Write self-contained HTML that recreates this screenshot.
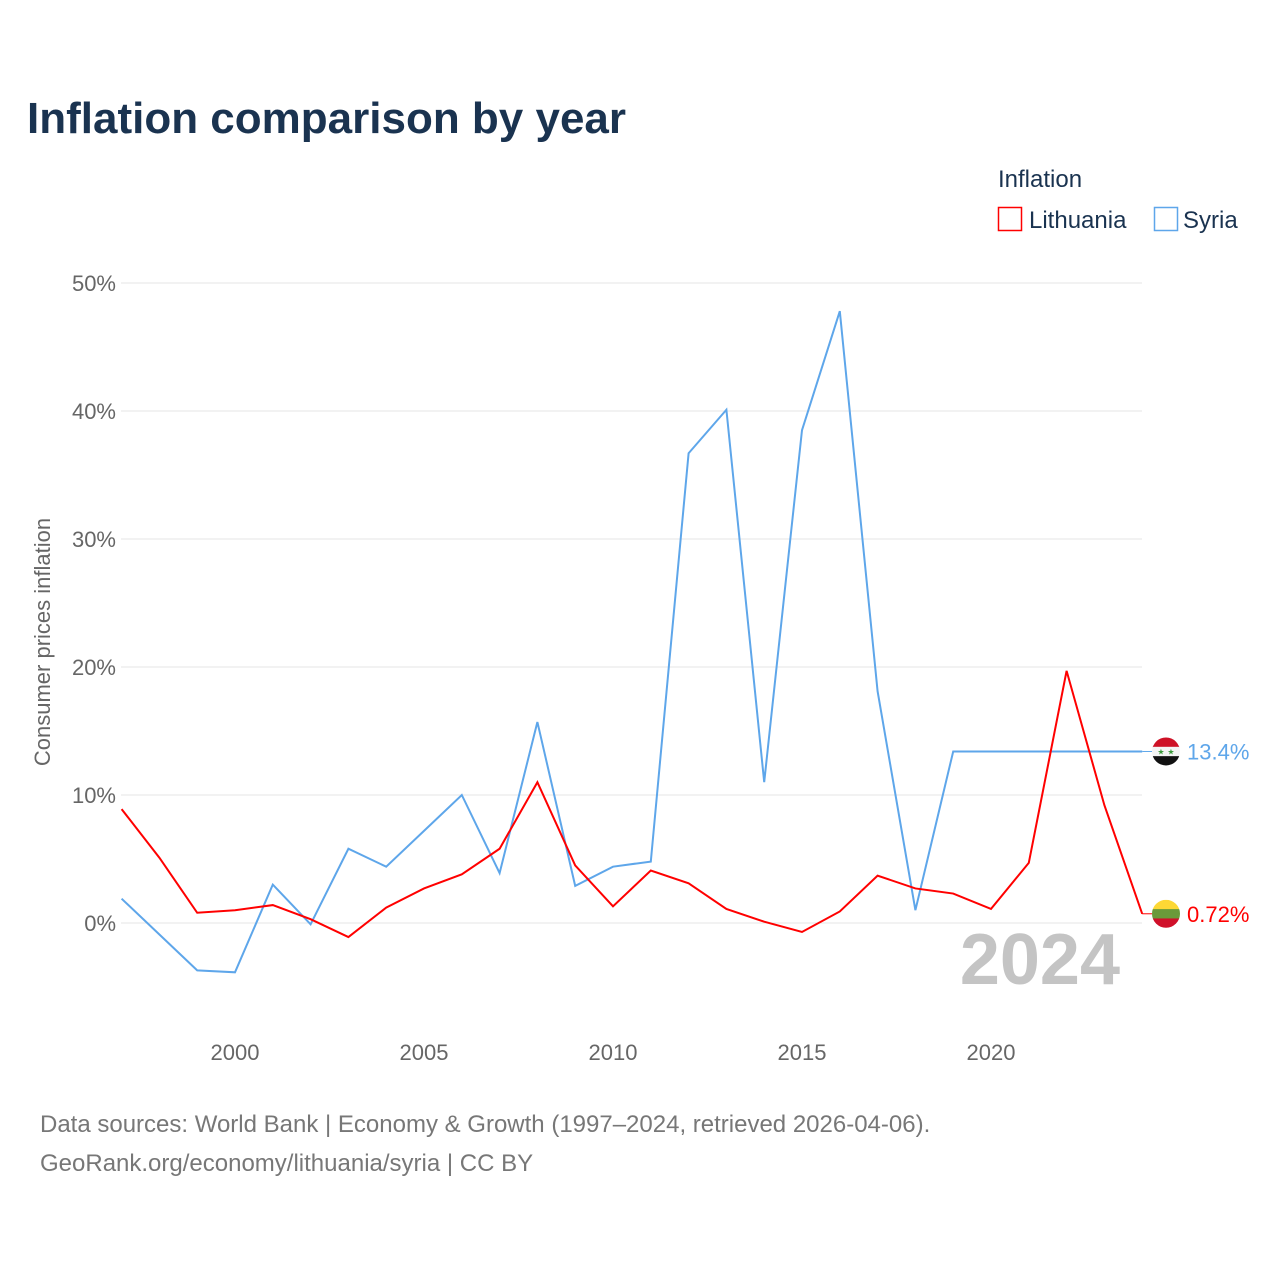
<!DOCTYPE html>
<html><head><meta charset="utf-8"><style>
body{margin:0;background:#fff;font-family:"Liberation Sans",sans-serif;}
svg{display:block}
</style></head><body>
<svg width="1280" height="1280" id="chart">
<text x="27" y="133" font-size="44" font-weight="bold" fill="#1a3350">Inflation comparison by year</text>
<g>
<text x="998" y="187" font-size="24" fill="#1a3350">Inflation</text>
<rect x="998.5" y="207.5" width="23" height="23" fill="none" stroke="#ff0000" stroke-width="1.5"/>
<text x="1029" y="228" font-size="24" fill="#1a3350">Lithuania</text>
<rect x="1154.5" y="207.5" width="23" height="23" fill="none" stroke="#5ea6ea" stroke-width="1.5"/>
<text x="1183" y="228" font-size="24" fill="#1a3350">Syria</text>
</g>
<text transform="translate(50,642) rotate(-90)" text-anchor="middle" font-size="22" fill="#666">Consumer prices inflation</text>
<g id="grid"></g><g id="xt"></g>
<text x="1120" y="984" text-anchor="end" font-size="72" font-weight="bold" fill="#c4c4c4">2024</text>
<g id="lines"></g>
<text x="40" y="1132" font-size="24" fill="#777">Data sources: World Bank | Economy &amp; Growth (1997–2024, retrieved 2026-04-06).</text>
<text x="40" y="1171" font-size="24" fill="#777">GeoRank.org/economy/lithuania/syria | CC BY</text>
</svg>
<script>
const years=[1997,1998,1999,2000,2001,2002,2003,2004,2005,2006,2007,2008,2009,2010,2011,2012,2013,2014,2015,2016,2017,2018,2019,2020,2021,2022,2023,2024];
const lithuania=[8.9,5.1,0.8,1.0,1.4,0.3,-1.1,1.2,2.7,3.8,5.8,11.0,4.5,1.3,4.1,3.1,1.1,0.1,-0.7,0.9,3.7,2.7,2.3,1.1,4.7,19.7,9.2,0.72];
const syria=[1.9,-0.9,-3.7,-3.85,3.0,-0.1,5.8,4.4,7.2,10.0,3.9,15.7,2.9,4.4,4.8,36.7,40.1,11.0,38.5,47.8,18.1,1.0,13.4,13.4,13.4,13.4,13.4,13.4];
const yTicks=[0,10,20,30,40,50];
const xTicks=[2000,2005,2010,2015,2020];
const NS="http://www.w3.org/2000/svg";
const X=y=>121.6+(y-1997)*37.8;
const Y=v=>923-v*12.8;
function mk(t,a,p){const e=document.createElementNS(NS,t);for(const k in a)e.setAttribute(k,a[k]);p.appendChild(e);return e;}
const g=document.getElementById('grid');
yTicks.forEach(v=>{
 const l=mk('line',{x1:121,x2:1142,y1:Y(v),y2:Y(v),stroke:'#e6e6e6','stroke-width':1},g);
 
 
 const t=mk('text',{x:116,y:Y(v)+8,'text-anchor':'end','font-size':22,fill:'#666'},g);
 t.textContent=v+'%';
 
 
});
const xt=document.getElementById('xt');
xTicks.forEach(v=>{
 const t=mk('text',{x:X(v),y:1060,'text-anchor':'middle','font-size':22,fill:'#666'},xt);
 t.textContent=v;
 
 
});
const L=document.getElementById('lines');
function series(vals,col,name){
 const pts=vals.map((v,i)=>X(years[i])+','+Y(v)).join(' ');
 const p=mk('polyline',{points:pts,fill:'none',stroke:col,'stroke-width':2},L);
 
 
 const last=vals[vals.length-1],yy=Y(last);
 mk('line',{x1:X(2024),x2:1152,y1:yy,y2:yy,stroke:col,'stroke-width':1},L);
 const t=mk('text',{x:1187,y:yy+8,'font-size':22,fill:col},L);
 t.textContent=(name==='syria'?last.toFixed(1):last.toFixed(2))+'%';
 
 
 return yy;
}
function flag(cx,cy,cols,name,stars){
 const gg=mk('g',{},L);
 
 
 const id='c'+name;
 const cp=mk('clipPath',{id:id},gg);mk('circle',{cx:cx,cy:cy,r:14},cp);
 cols.forEach((c,i)=>mk('rect',{x:cx-14,y:cy-14+i*28/3,width:28,height:28/3+0.5,fill:c,'clip-path':'url(#'+id+')'},gg));
 if(stars){[-5,5].forEach(d=>{const s=mk('text',{x:cx+d,y:cy+3,'text-anchor':'middle','font-size':8,fill:'#3a9a3a'},gg);s.textContent='★';});}
}
const ys=series(syria,'#5ea6ea','syria');
const yl=series(lithuania,'#ff0000','lithuania');
flag(1166,ys,['#ce1126','#f4f4f4','#111'],'syria',true);
flag(1166,yl,['#fdd835','#6a9a3a','#d0102a'],'lithuania',false);
</script>
</body></html>
